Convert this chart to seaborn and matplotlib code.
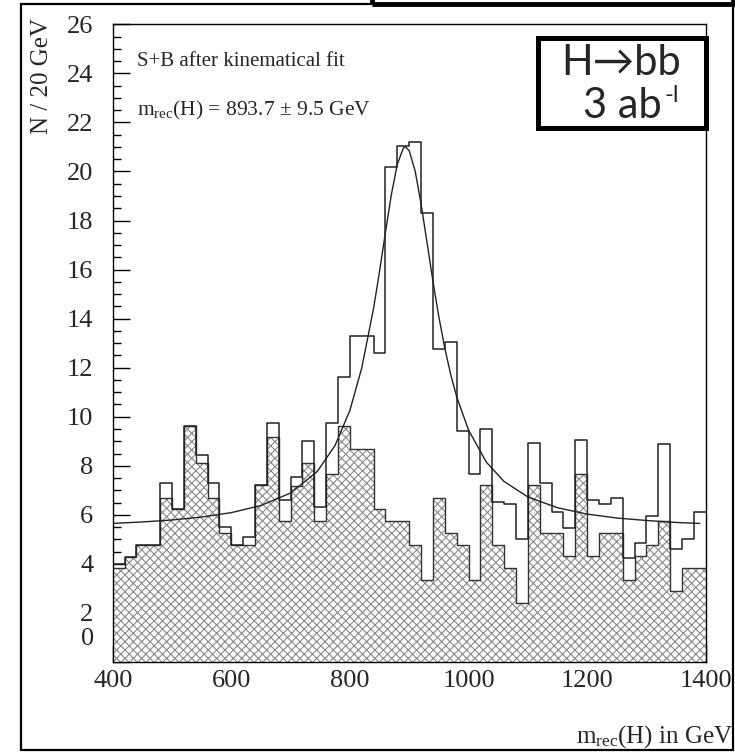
import matplotlib
matplotlib.use("Agg")
import matplotlib.pyplot as plt
from matplotlib.patches import Rectangle
from matplotlib.ticker import MultipleLocator, FuncFormatter
import numpy as np
import pandas as pd
import seaborn as sns

# histogram binning: 50 bins of 20 GeV
m_low = 400
m_high = 1400
n_bins = 50

# S+B (open histogram)
sb_counts = [4.0, 4.3, 4.77, 4.77, 7.28, 6.22, 9.62, 8.44, 7.28, 5.51,
             4.77, 5.08, 7.21, 9.73, 6.60, 7.53, 9.02, 6.33, 9.73, 11.63,
             13.28, 13.28, 12.58, 20.18, 21.04, 21.20, 18.32, 12.78, 13.05, 9.43,
             7.66, 9.49, 6.53, 6.44, 5.0, 8.94, 7.28, 6.13, 5.45, 9.07,
             6.60, 6.44, 6.70, 4.22, 4.86, 5.95, 8.88, 4.59, 5.0, 6.10]

# background only (hatched histogram)
b_counts = [3.82, 4.29, 4.77, 4.77, 6.70, 6.22, 9.62, 8.12, 6.70, 5.27,
            4.77, 4.77, 7.21, 9.16, 5.75, 7.19, 8.12, 5.75, 7.65, 9.62,
            8.67, 8.67, 6.22, 5.75, 5.75, 4.77, 3.34, 6.70, 5.27, 4.77,
            3.34, 7.21, 4.77, 3.82, 2.39, 7.21, 5.27, 5.27, 4.32, 7.65,
            4.32, 5.27, 5.27, 3.34, 4.32, 4.77, 5.75, 2.91, 3.82, 3.82]

# fitted curve
fit_m = [400, 450, 500, 550, 600, 650, 700, 745, 775, 800, 820, 840, 850, 860,
         870, 880, 890, 893.7, 900, 910, 920, 930, 940, 950, 960, 970, 980,
         1000, 1030, 1060, 1100, 1150, 1200, 1250, 1300, 1350, 1390]
fit_n = [5.65, 5.71, 5.79, 5.91, 6.09, 6.38, 6.89, 7.77, 8.83, 10.26, 11.99, 14.43,
         15.93, 17.53, 19.07, 20.30, 20.95, 21.0, 20.85, 20.02, 18.68, 17.11, 15.53,
         14.07, 12.80, 11.72, 10.82, 9.46, 8.15, 7.36, 6.73, 6.29, 6.03, 5.87,
         5.77, 5.69, 5.65]

width = (m_high - m_low) / n_bins
hist = pd.DataFrame({
    'm': m_low + width * (np.arange(n_bins) + 0.5),
    'sb': sb_counts,
    'b': b_counts,
})

sns.set_style("white")
plt.rcParams['font.family'] = ['Liberation Serif', 'DejaVu Serif']
plt.rcParams['mathtext.default'] = 'regular'
plt.rcParams['hatch.linewidth'] = 0.8

W, H = 735, 752
fig = plt.figure(figsize=(W / 100, H / 100), dpi=100)
ax = fig.add_axes([112.7 / W, 1 - 662 / H, 593 / W, 637.7 / H])

hist_kw = dict(x='m', bins=n_bins, binrange=(m_low, m_high), element='step', ax=ax)
# background, hatched
sns.histplot(data=hist, weights='b', fill=True, facecolor='white',
             edgecolor='#8a8a8a', alpha=1, hatch='xxxx', linewidth=0, **hist_kw)
sns.histplot(data=hist, weights='b', fill=False, color='#333333',
             linewidth=1.0, **hist_kw)
# signal + background
sns.histplot(data=hist, weights='sb', fill=False, color='#222222',
             linewidth=1.1, **hist_kw)
sns.lineplot(x=fit_m, y=fit_n, color='#222222', linewidth=1.0, ax=ax)

ax.set_xlim(m_low, m_high)
ax.set_ylim(0, 26)
ax.set_xlabel('')
ax.set_ylabel('')
ax.xaxis.set_major_locator(MultipleLocator(200))
ax.xaxis.set_minor_locator(MultipleLocator(50))
ax.yaxis.set_major_locator(MultipleLocator(2))
ax.yaxis.set_minor_locator(MultipleLocator(0.5))
# the "0" of the y axis is drawn by hand a little higher, clear of "400"
ax.yaxis.set_major_formatter(FuncFormatter(lambda v, p: '' if v == 0 else f'{v:g}'))
ax.tick_params(which='both', direction='in', top=False, right=False,
               bottom=True, left=True, color='black', labelsize=19)
ax.tick_params(which='major', length=12, width=1)
ax.tick_params(which='minor', length=6, width=1)
ax.tick_params(axis='x', pad=6)
ax.tick_params(axis='y', pad=14)
for s in ax.spines.values():
    s.set_color('black')
    s.set_linewidth(1.0)
ax.annotate('0', xy=(0, 0), xycoords=('axes fraction', 'data'),
            xytext=(-19, 23), textcoords='offset pixels', fontsize=19,
            ha='right', va='center', annotation_clip=False)

ax.text(0.041, 1 - (62 - 24.3) / 637.7, 'S+B after kinematical fit',
        transform=ax.transAxes, fontsize=15, va='center', ha='left')
ax.text(0.041, 1 - (110 - 24.3) / 637.7, 'm$_{rec}$(H) = 893.7 \u00b1 9.5 GeV',
        transform=ax.transAxes, fontsize=15.5, va='center', ha='left')

fig.text(42 / W, 1 - 18 / H, 'N / 20 GeV', rotation=90, fontsize=18,
         ha='center', va='top')
fig.text(733 / W, 1 - 737 / H, 'm$_{rec}$(H) in GeV', fontsize=18,
         ha='right', va='center')

# label box
fig.patches.append(Rectangle((538 / W, 1 - 128 / H), 168 / W, 90 / H,
                             transform=fig.transFigure, fill=False, lw=3.6,
                             ec='black', zorder=5))
box_font = ['Lato', 'DejaVu Sans']
fig.text(621 / W, 1 - 63 / H, 'H\u2192bb', fontsize=30,
         family=box_font, ha='center', va='center')
fig.text(662 / W, 1 - 106 / H, '3 ab', fontsize=30,
         family=box_font, ha='right', va='center')
fig.text(664 / W, 1 - 95 / H, '-l', fontsize=17,
         family=box_font, ha='left', va='center')

# cut-off box at the top and outer frame
fig.patches.append(Rectangle((372 / W, 1 - 4 / H), 361 / W, 30 / H,
                             transform=fig.transFigure, fill=False, lw=3.5,
                             ec='black', zorder=5))
fig.patches.append(Rectangle((21 / W, 2 / H), 712 / W, 746 / H,
                             transform=fig.transFigure, fill=False, lw=1.6,
                             ec='black', zorder=4))

fig.savefig('out.png', dpi=100)
